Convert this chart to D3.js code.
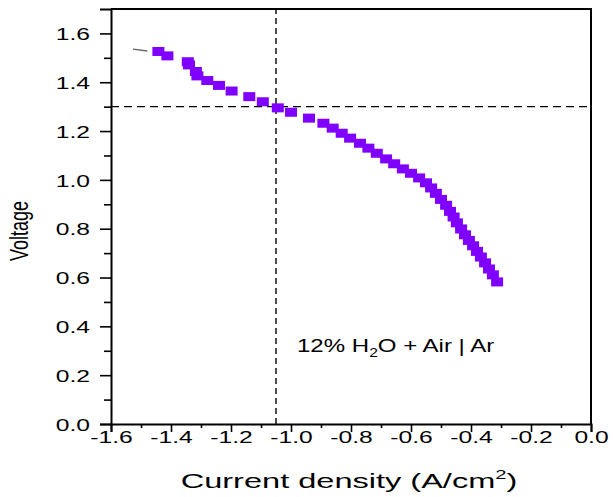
<!DOCTYPE html>
<html>
<head>
<meta charset="utf-8">
<script src="https://cdn.jsdelivr.net/npm/d3@7"></script>
<style>
  html, body { margin: 0; padding: 0; background: #fff; }
  svg { display: block; font-family: "Liberation Sans", Arial, sans-serif; }
</style>
</head>
<body>
<svg id="chart" width="613" height="497"></svg>
<script>
// Polarization curve: current density (A/cm²) vs cell voltage
const currentDensity = [
  -1.442, -1.412, -1.344, -1.340, -1.317, -1.312, -1.279, -1.240, -1.198, -1.139,
  -1.094, -1.044, -1.000, -0.940, -0.892, -0.861, -0.831, -0.803, -0.770, -0.742,
  -0.714, -0.683, -0.656, -0.627, -0.600, -0.573, -0.550, -0.533, -0.517, -0.500,
  -0.483, -0.470, -0.458, -0.447, -0.433, -0.420, -0.407, -0.393, -0.380, -0.367,
  -0.353, -0.340, -0.327, -0.313
];
const voltage = [
  1.526, 1.508, 1.484, 1.471, 1.444, 1.426, 1.407, 1.387, 1.364, 1.341,
  1.320, 1.295, 1.277, 1.253, 1.232, 1.212, 1.191, 1.171, 1.150, 1.130,
  1.109, 1.086, 1.066, 1.045, 1.027, 1.008, 0.988, 0.967, 0.945, 0.920,
  0.896, 0.871, 0.848, 0.824, 0.799, 0.775, 0.752, 0.730, 0.707, 0.684,
  0.660, 0.635, 0.611, 0.582
];
// short trace segment left of the first marker
const traceX = [-1.527, -1.479];
const traceY = [1.536, 1.528];

const xTicks = [-1.6, -1.4, -1.2, -1.0, -0.8, -0.6, -0.4, -0.2, 0.0];
const xMinorTicks = [-1.5, -1.3, -1.1, -0.9, -0.7, -0.5, -0.3, -0.1];
const yTicks = [0.0, 0.2, 0.4, 0.6, 0.8, 1.0, 1.2, 1.4, 1.6];
const yMinorTicks = [0.1, 0.3, 0.5, 0.7, 0.9, 1.1, 1.3, 1.5];

const refVoltage = 1.3;
const refCurrent = -1.05;

const svg = d3.select("#chart");
const plotLeft = 111, plotRight = 591, plotTop = 9, plotBottom = 424;
const sx = 1.45; // horizontal glyph stretch for axis text

const x = d3.scaleLinear().domain([-1.6, 0]).range([plotLeft, plotRight]);
const y = d3.scaleLinear().domain([0, 1.7]).range([plotBottom, plotTop]);

// frame (top and right edges)
svg.append("path")
  .attr("d", `M${plotLeft},${plotTop}H${plotRight}V${plotBottom}`)
  .attr("fill", "none").attr("stroke", "#000").attr("stroke-width", 2);

// reference lines
svg.append("line")
  .attr("x1", plotLeft).attr("x2", plotRight)
  .attr("y1", y(refVoltage)).attr("y2", y(refVoltage))
  .attr("stroke", "#000").attr("stroke-width", 1.4).attr("stroke-dasharray", "8,5");
svg.append("line")
  .attr("x1", x(refCurrent)).attr("x2", x(refCurrent))
  .attr("y1", plotBottom).attr("y2", plotTop)
  .attr("stroke", "#000").attr("stroke-width", 1.4).attr("stroke-dasharray", "6,4");

// x axis
const xAxis = svg.append("g").attr("transform", `translate(0,${plotBottom})`)
  .call(d3.axisBottom(x).tickValues(xTicks).tickSize(8).tickFormat(d3.format(".1f")));
svg.append("g").attr("transform", `translate(0,${plotBottom})`)
  .call(d3.axisBottom(x).tickValues(xMinorTicks).tickSize(4).tickFormat(""))
  .call(g => g.select(".domain").remove());

// y axis
const yAxis = svg.append("g").attr("transform", `translate(${plotLeft},0)`)
  .call(d3.axisLeft(y).tickValues(yTicks).tickSize(11).tickFormat(d3.format(".1f")));
svg.append("g").attr("transform", `translate(${plotLeft},0)`)
  .call(d3.axisLeft(y).tickValues(yMinorTicks).tickSize(7).tickFormat(""))
  .call(g => g.select(".domain").remove());

svg.selectAll(".domain").attr("stroke", "#000").attr("stroke-width", 2);
svg.selectAll(".tick line").attr("stroke", "#000").attr("stroke-width", 1.6);

xAxis.selectAll(".tick text")
  .attr("y", null).attr("dy", null)
  .attr("transform", `translate(0,19) scale(${sx},1)`)
  .attr("font-size", 17).attr("fill", "#000")
  .attr("font-family", "Liberation Sans, Arial, sans-serif")
  .text(d => d3.format(".1f")(d).replace("−", "-"));

yAxis.selectAll(".tick text")
  .attr("x", null).attr("dy", "0.36em")
  .attr("transform", `translate(-21,0) scale(${sx},1)`)
  .attr("text-anchor", "end")
  .attr("font-size", 17).attr("fill", "#000")
  .attr("font-family", "Liberation Sans, Arial, sans-serif");

// trace segment
svg.append("path")
  .attr("d", d3.line().x((d, i) => x(traceX[i])).y((d, i) => y(traceY[i]))(traceX))
  .attr("fill", "none").attr("stroke", "#666").attr("stroke-width", 1.3);

// markers
const mw = 12, mh = 9;
svg.append("g").selectAll("rect")
  .data(currentDensity)
  .join("rect")
  .attr("x", (d) => x(d) - mw / 2)
  .attr("y", (d, i) => y(voltage[i]) - mh / 2)
  .attr("width", mw).attr("height", mh)
  .attr("fill", "#8000ff");

// axis titles
const xt = svg.append("text")
  .attr("transform", `translate(349,488) scale(1.55,1)`)
  .attr("text-anchor", "middle")
  .attr("font-size", 21).attr("fill", "#000");
xt.append("tspan").text("Current density (A/cm");
xt.append("tspan").attr("font-size", 13).attr("dy", -9).text("2");
xt.append("tspan").attr("dy", 9).text(")");

svg.append("text")
  .attr("transform", "translate(28,231) rotate(-90) scale(1,1.4)")
  .attr("text-anchor", "middle")
  .attr("font-size", 18).attr("fill", "#000")
  .text("Voltage");

// condition label
const lab = svg.append("text")
  .attr("transform", "translate(297,352) scale(1.3,1)")
  .attr("font-size", 18.5).attr("fill", "#000");
lab.append("tspan").text("12% H");
lab.append("tspan").attr("font-size", 12).attr("dy", 5).text("2");
lab.append("tspan").attr("dy", -5).text("O + Air | Ar");
</script>
</body>
</html>
